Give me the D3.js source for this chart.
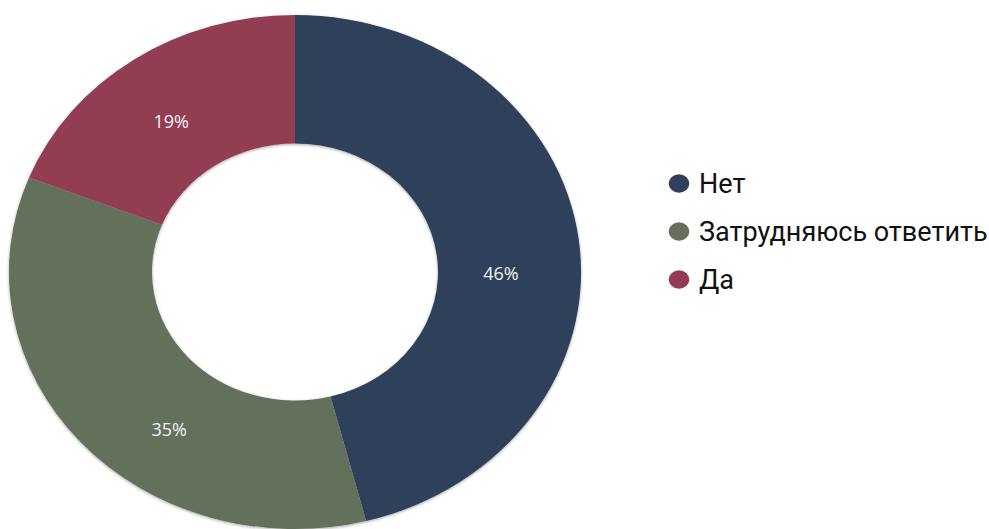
<!DOCTYPE html>
<html>
<head>
<meta charset="utf-8">
<script src="https://cdn.jsdelivr.net/npm/d3@7/dist/d3.min.js"></script>
<style>
  html, body { margin: 0; padding: 0; background: #ffffff; }
  svg { display: block; }
</style>
</head>
<body>
<svg id="chart" width="989" height="529"></svg>
<script>
// Survey answers and their shares (percent)
const categories = ["Нет", "Затрудняюсь ответить", "Да"];
const values = [46, 35, 19];
const colors = ["#2f405a", "#64705b", "#933c53"];
// Where each value label sits: fraction along its slice and distance from the centre
const labelFractions = [0.547, 0.397, 0.466];
const labelRadii = [185, 194, 187];

const width = 989, height = 529;
const cx = 295, cy = 272;
const outerR = 257, innerR = 128.5;
const stretchX = 1.113;   // the ring is drawn wider than tall

const svg = d3.select("#chart");

const defs = svg.append("defs");
const shadow = defs.append("filter").attr("id", "ringShadow")
  .attr("x", "-10%").attr("y", "-10%").attr("width", "120%").attr("height", "120%");
shadow.append("feDropShadow")
  .attr("dx", 0).attr("dy", 1).attr("stdDeviation", 1.6)
  .attr("flood-color", "#000").attr("flood-opacity", 0.35);

const pie = d3.pie().sort(null).value(d => d);
const arcs = pie(values);
const arc = d3.arc().innerRadius(innerR).outerRadius(outerR);

const ring = svg.append("g")
  .attr("transform", `translate(${cx},${cy}) scale(${stretchX},1)`)
  .attr("filter", "url(#ringShadow)");

ring.selectAll("path")
  .data(arcs)
  .join("path")
  .attr("d", arc)
  .attr("fill", (d, i) => colors[i]);

// Percentage labels inside the slices
const labelAngle = (d, i) => d.startAngle + labelFractions[i] * (d.endAngle - d.startAngle);
svg.append("g")
  .selectAll("text")
  .data(arcs)
  .join("text")
  .attr("x", (d, i) => cx + labelRadii[i] * Math.sin(labelAngle(d, i)) * stretchX)
  .attr("y", (d, i) => cy - labelRadii[i] * Math.cos(labelAngle(d, i)) + 6.5)
  .attr("text-anchor", "middle")
  .attr("font-family", "'Open Sans', sans-serif")
  .attr("font-size", 18)
  .attr("fill", "#f2f2f2")
  .text(d => d.data + "%");

// Legend
const legendY = d3.scalePoint().domain(categories).range([183.5, 279.5]);
const legend = svg.append("g")
  .selectAll("g")
  .data(categories)
  .join("g")
  .attr("transform", d => `translate(679,${legendY(d)})`);

legend.append("ellipse")
  .attr("rx", 10.3)
  .attr("ry", 9.3)
  .attr("fill", (d, i) => colors[i]);

legend.append("text")
  .attr("x", 20)
  .attr("y", 9)
  .attr("font-family", "Roboto, sans-serif")
  .attr("font-size", 27)
  .attr("fill", "#111")
  .text(d => d);
</script>
</body>
</html>
